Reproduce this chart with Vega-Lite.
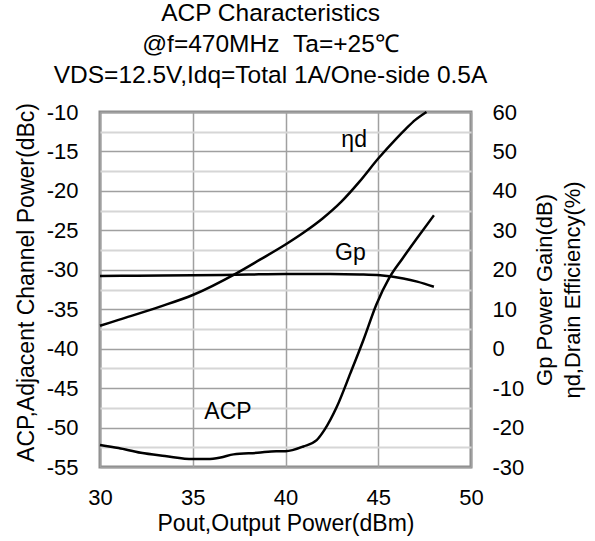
{
  "$schema": "https://vega.github.io/schema/vega-lite/v6.json",
  "width": 371,
  "height": 355,
  "autosize": "none",
  "padding": {"left": 100, "top": 112, "right": 124, "bottom": 74},
  "background": "white",
  "config": {
    "font": "Liberation Sans",
    "view": {"stroke": "#8c8c8c", "strokeWidth": 3},
    "axis": {"labelFontSize": 22, "titleFontSize": 23, "labelColor": "black", "titleColor": "black", "titleFontWeight": "normal", "domain": false, "ticks": false, "tickSize": 0, "labelOverlap": false, "labelFlush": false}
  },
  "title": {
    "text": ["ACP Characteristics", "@f=470MHz \u00a0Ta=+25℃", "VDS=12.5V,Idq=Total 1A/One-side 0.5A"],
    "fontSize": 24.5,
    "fontWeight": "normal",
    "color": "black",
    "lineHeight": 31,
    "anchor": "middle",
    "dx": -15,
    "offset": 13
  },
  "datasets": {
    "acp": [
      {"x": 30, "v": -52.2},
      {"x": 31, "v": -52.6},
      {"x": 32.2, "v": -53.2},
      {"x": 33.5, "v": -53.6},
      {"x": 35, "v": -54.0},
      {"x": 35.8, "v": -54.0},
      {"x": 36.5, "v": -53.8},
      {"x": 37.2, "v": -53.4},
      {"x": 38.5, "v": -53.2},
      {"x": 39.5, "v": -53.0},
      {"x": 40, "v": -53.0},
      {"x": 40.96, "v": -52.4},
      {"x": 41.68, "v": -51.6},
      {"x": 42.1, "v": -50.3},
      {"x": 42.76, "v": -47.4},
      {"x": 43.5, "v": -43.1},
      {"x": 44.2, "v": -38.9},
      {"x": 44.9, "v": -34.4},
      {"x": 45.6, "v": -31.0},
      {"x": 46.3, "v": -28.6},
      {"x": 47, "v": -26.3},
      {"x": 48, "v": -23.1}
    ],
    "right": [
      {"s": "Gp", "x": 30, "v": 18.4},
      {"s": "Gp", "x": 32, "v": 18.5},
      {"s": "Gp", "x": 35, "v": 18.6},
      {"s": "Gp", "x": 38, "v": 18.8},
      {"s": "Gp", "x": 40, "v": 18.9},
      {"s": "Gp", "x": 42.4, "v": 18.9},
      {"s": "Gp", "x": 44, "v": 18.8},
      {"s": "Gp", "x": 45.1, "v": 18.6},
      {"s": "Gp", "x": 46.35, "v": 17.8},
      {"s": "Gp", "x": 47.1, "v": 17.0},
      {"s": "Gp", "x": 48, "v": 15.7},
      {"s": "nd", "x": 30, "v": 5.8},
      {"s": "nd", "x": 31, "v": 7.3},
      {"s": "nd", "x": 33.2, "v": 10.6},
      {"s": "nd", "x": 35, "v": 13.6},
      {"s": "nd", "x": 37.35, "v": 19.1},
      {"s": "nd", "x": 38.6, "v": 22.5},
      {"s": "nd", "x": 40, "v": 26.4},
      {"s": "nd", "x": 41, "v": 29.5},
      {"s": "nd", "x": 42, "v": 33.0},
      {"s": "nd", "x": 43, "v": 37.2},
      {"s": "nd", "x": 44, "v": 42.4},
      {"s": "nd", "x": 45, "v": 48.2},
      {"s": "nd", "x": 46, "v": 53.4},
      {"s": "nd", "x": 46.5, "v": 55.8},
      {"s": "nd", "x": 47, "v": 58.0},
      {"s": "nd", "x": 47.6, "v": 60.0}
    ],
    "leftLabels": [{"label": "ACP", "x": 36.9, "v": -48.0}],
    "rightLabels": [
      {"label": "ηd", "x": 43.7, "v": 52.9},
      {"label": "Gp", "x": 43.5, "v": 24.3}
    ]
  },
  "encoding": {
    "x": {
      "field": "x",
      "type": "quantitative",
      "scale": {"domain": [30, 50], "nice": false, "zero": false},
      "axis": {
        "values": [30, 35, 40, 45, 50],
        "labelOverlap": false,
        "grid": true,
        "gridColor": "#a0a0a0",
        "gridWidth": 1.5,
        "labelPadding": 20,
        "title": "Pout,Output Power(dBm)",
        "titlePadding": 4
      }
    }
  },
  "layer": [
    {
      "layer": [
        {
          "data": {"name": "acp"},
          "mark": {"type": "line", "color": "black", "strokeWidth": 2.5, "interpolate": "monotone"},
          "encoding": {
            "y": {
              "field": "v",
              "type": "quantitative",
              "scale": {"domain": [-55, -10], "nice": false, "zero": false},
              "axis": {
                "values": [-55, -52.5, -50, -47.5, -45, -42.5, -40, -37.5, -35, -32.5, -30, -27.5, -25, -22.5, -20, -17.5, -15, -12.5, -10],
                "labelExpr": "datum.value % 5 === 0 ? datum.value + '' : ''",
                "labelOverlap": false,
                "grid": true,
                "gridColor": {"condition": {"test": "datum.value % 5 === 0", "value": "#a0a0a0"}, "value": "#d6d6d6"},
                "gridWidth": {"condition": {"test": "datum.value % 5 === 0", "value": 1.5}, "value": 2},
                "labelPadding": 22,
                "title": "ACP,Adjacent Channel Power(dBc)",
                "titlePadding": 8,
                "titleY": 170
              }
            }
          }
        },
        {
          "data": {"name": "leftLabels"},
          "mark": {"type": "text", "fontSize": 23, "color": "black"},
          "encoding": {
            "y": {
              "field": "v",
              "type": "quantitative",
              "scale": {"domain": [-55, -10], "nice": false, "zero": false},
              "axis": {
                "values": [-55, -52.5, -50, -47.5, -45, -42.5, -40, -37.5, -35, -32.5, -30, -27.5, -25, -22.5, -20, -17.5, -15, -12.5, -10],
                "labelExpr": "datum.value % 5 === 0 ? datum.value + '' : ''",
                "labelOverlap": false,
                "grid": true,
                "gridColor": {"condition": {"test": "datum.value % 5 === 0", "value": "#a0a0a0"}, "value": "#d6d6d6"},
                "gridWidth": {"condition": {"test": "datum.value % 5 === 0", "value": 1.5}, "value": 2},
                "labelPadding": 22,
                "title": "ACP,Adjacent Channel Power(dBc)",
                "titlePadding": 8,
                "titleY": 170
              }
            },
            "text": {"field": "label"}
          }
        }
      ]
    },
    {
      "layer": [
        {
          "data": {"name": "right"},
          "mark": {"type": "line", "color": "black", "strokeWidth": 2.5, "interpolate": "monotone"},
          "encoding": {
            "detail": {"field": "s"},
            "y": {
              "field": "v",
              "type": "quantitative",
              "scale": {"domain": [-30, 60], "nice": false, "zero": false},
              "axis": {
                "orient": "right",
                "values": [-30, -25, -20, -15, -10, -5, 0, 5, 10, 15, 20, 25, 30, 35, 40, 45, 50, 55, 60],
                "labelExpr": "datum.value % 10 === 0 ? datum.value + '' : ''",
                "labelOverlap": false,
                "grid": false,
                "labelPadding": 21,
                "title": ["Gp Power Gain(dB)", "ηd,Drain Efficiency(%)"],
                "titleAngle": 270,
                "titleFontSize": 22,
                "titleLineHeight": 28,
                "titlePadding": 5
              }
            }
          }
        },
        {
          "data": {"name": "rightLabels"},
          "mark": {"type": "text", "fontSize": 23, "color": "black"},
          "encoding": {
            "y": {
              "field": "v",
              "type": "quantitative",
              "scale": {"domain": [-30, 60], "nice": false, "zero": false},
              "axis": {
                "orient": "right",
                "values": [-30, -25, -20, -15, -10, -5, 0, 5, 10, 15, 20, 25, 30, 35, 40, 45, 50, 55, 60],
                "labelExpr": "datum.value % 10 === 0 ? datum.value + '' : ''",
                "labelOverlap": false,
                "grid": false,
                "labelPadding": 21,
                "title": ["Gp Power Gain(dB)", "ηd,Drain Efficiency(%)"],
                "titleAngle": 270,
                "titleFontSize": 22,
                "titleLineHeight": 28,
                "titlePadding": 5
              }
            },
            "text": {"field": "label"}
          }
        }
      ]
    }
  ],
  "resolve": {"scale": {"y": "independent"}}
}
